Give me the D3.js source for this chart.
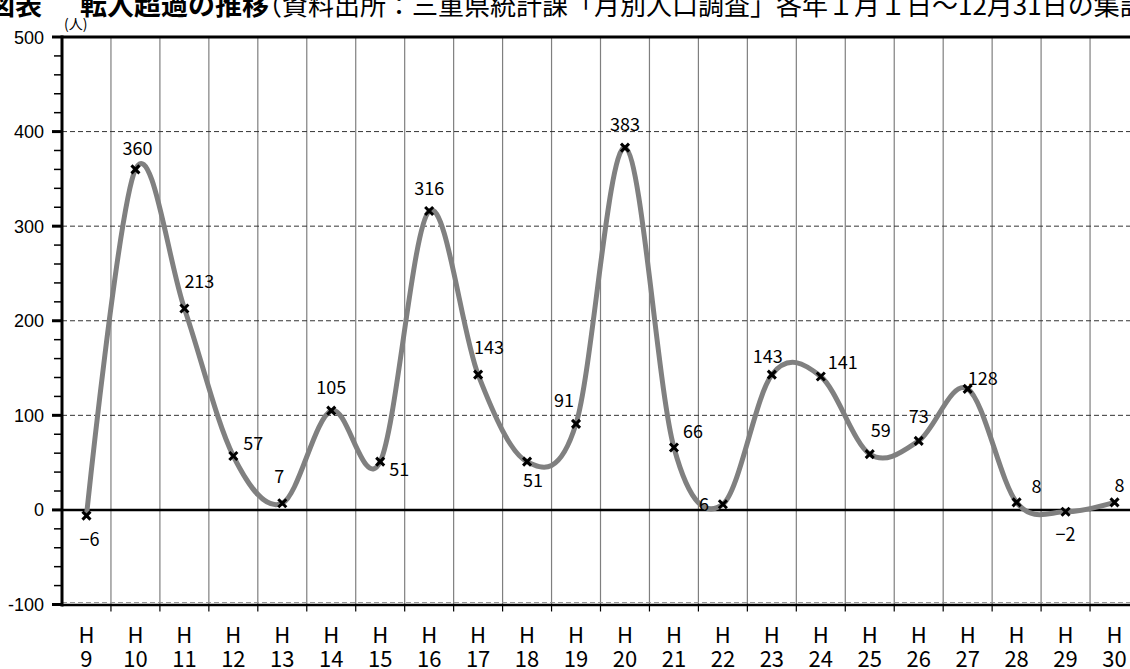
<!DOCTYPE html>
<html>
<head>
<meta charset="utf-8">
<script src="https://cdn.jsdelivr.net/npm/d3@7/dist/d3.min.js"></script>
<style>
  html, body { margin: 0; padding: 0; background: #fff; }
  svg { display: block; }
</style>
</head>
<body>
<svg id="chart" width="1130" height="669"></svg>
<script>
// 転入超過 (人), H9 .. H30
const years = ["9", "10", "11", "12", "13", "14", "15", "16", "17", "18", "19",
               "20", "21", "22", "23", "24", "25", "26", "27", "28", "29", "30"];
const netInflow = [-6, 360, 213, 57, 7, 105, 51, 316, 143, 51, 91,
                   383, 66, 6, 143, 141, 59, 73, 128, 8, -2, 8];
const yTicks = [-100, 0, 100, 200, 300, 400, 500];
const gridValues = [100, 200, 300, 400];

// where each data label sits next to its marker: [anchor, dx, dy]
const labelOffsets = [
    ["middle", 3, 30], ["middle", 2, -14], ["start", 0, -20], ["start", 10, -6],
    ["middle", -3, -20], ["middle", 0, -17], ["start", 9, 14], ["middle", 0, -16],
    ["start", -4, -21], ["middle", 6, 25], ["middle", -12, -17], ["middle", 0, -17],
    ["start", 9, -9], ["middle", -19, 7], ["middle", -4, -12], ["start", 7, -8],
    ["middle", 11, -17], ["middle", 0, -18], ["start", 0, -4], ["start", 15, -9],
    ["middle", 0, 29], ["start", 0, -10]
];

const SANS = "'Liberation Sans', Arial, sans-serif";
const JP = "'Noto Sans CJK JP', sans-serif";

const svg = d3.select("#chart");
const W = 1130;

const x = d3.scaleBand()
    .domain(years)
    .range([62, 1139])
    .padding(0);

const y = d3.scaleLinear()
    .domain([-100, 500])
    .range([604.5, 37]);

// title (top is cut off in the original)
const title = svg.append("text")
    .attr("y", 15)
    .style("font-family", JP);
title.append("tspan")
    .attr("x", -12)
    .style("font-size", "27px")
    .style("font-weight", "bold")
    .text("図表");
title.append("tspan")
    .attr("x", 80)
    .style("font-size", "27px")
    .style("font-weight", "bold")
    .text("転入超過の推移");
title.append("tspan")
    .attr("x", 256)
    .style("font-size", "26px")
    .text("（資料出所：三重県統計課「月別人口調査」各年１月１日～12月31日の集計）");

svg.append("text")
    .attr("x", 64)
    .attr("y", 29)
    .style("font-family", JP)
    .style("font-size", "14px")
    .text("(人)");

// vertical grid between years
const bounds = years.slice(1).map(d => x(d));
svg.append("g")
    .selectAll("line")
    .data(bounds)
    .join("line")
    .attr("x1", d => d).attr("x2", d => d)
    .attr("y1", y(500)).attr("y2", y(-100))
    .attr("stroke", "#7f7f7f")
    .attr("stroke-width", 1.2);

// x tick marks below the bottom line
svg.append("g")
    .selectAll("line")
    .data(bounds)
    .join("line")
    .attr("x1", d => d).attr("x2", d => d)
    .attr("y1", y(-100)).attr("y2", y(-100) + 7)
    .attr("stroke", "#000")
    .attr("stroke-width", 1.2);

// dashed horizontal grid
svg.append("g")
    .selectAll("line")
    .data(gridValues)
    .join("line")
    .attr("x1", 62).attr("x2", W)
    .attr("y1", d => y(d)).attr("y2", d => y(d))
    .attr("stroke", "#333")
    .attr("stroke-width", 1)
    .attr("stroke-dasharray", "5,3");

svg.append("line")
    .attr("x1", 62).attr("x2", W)
    .attr("y1", y(-100) - 2).attr("y2", y(-100) - 2)
    .attr("stroke", "#999")
    .attr("stroke-width", 1)
    .attr("stroke-dasharray", "5,3");

// solid frame lines: top, zero, bottom
svg.append("line")
    .attr("x1", 62).attr("x2", W)
    .attr("y1", y(500)).attr("y2", y(500))
    .attr("stroke", "#000").attr("stroke-width", 3);
svg.append("line")
    .attr("x1", 62).attr("x2", W)
    .attr("y1", y(0)).attr("y2", y(0))
    .attr("stroke", "#000").attr("stroke-width", 2.5);
svg.append("line")
    .attr("x1", 62).attr("x2", W)
    .attr("y1", y(-100) + 0.5).attr("y2", y(-100) + 0.5)
    .attr("stroke", "#000").attr("stroke-width", 2.5);

// y axis with major and minor ticks
const yAxis = svg.append("g").attr("transform", "translate(62,0)");
yAxis.append("line")
    .attr("y1", y(500) - 1.5).attr("y2", y(-100) + 2)
    .attr("stroke", "#000").attr("stroke-width", 3);
yAxis.selectAll(".minor")
    .data(d3.range(-100, 501, 20).filter(v => v % 100 !== 0))
    .join("line")
    .attr("class", "minor")
    .attr("x1", -8).attr("x2", 0)
    .attr("y1", d => y(d)).attr("y2", d => y(d))
    .attr("stroke", "#000").attr("stroke-width", 1.5);
yAxis.selectAll(".major")
    .data(yTicks)
    .join("line")
    .attr("class", "major")
    .attr("x1", -10).attr("x2", 0)
    .attr("y1", d => y(d)).attr("y2", d => y(d))
    .attr("stroke", "#000").attr("stroke-width", 3);
yAxis.selectAll("text")
    .data(yTicks)
    .join("text")
    .attr("x", -18)
    .attr("y", d => y(d) + 6.5)
    .attr("text-anchor", "end")
    .style("font-family", SANS)
    .style("font-size", "18px")
    .text(d => d);

// x labels "H" over the year number
const xl = svg.append("g")
    .style("font-family", JP)
    .style("font-size", "22px");
xl.selectAll(".h")
    .data(years)
    .join("text")
    .attr("class", "h")
    .attr("x", d => x(d) + x.bandwidth() / 2)
    .attr("y", 643)
    .attr("text-anchor", "middle")
    .text("H");
xl.selectAll(".n")
    .data(years)
    .join("text")
    .attr("class", "n")
    .attr("x", d => x(d) + x.bandwidth() / 2)
    .attr("y", 667)
    .attr("text-anchor", "middle")
    .text(d => d);

// smoothed line
const pts = years.map((d, i) => [x(d) + x.bandwidth() / 2, y(netInflow[i])]);
const line = d3.line().curve(d3.curveCardinal.tension(0));
svg.append("path")
    .attr("d", line(pts))
    .attr("fill", "none")
    .attr("stroke", "#808080")
    .attr("stroke-width", 5)
    .attr("stroke-linejoin", "round");

// x markers
const s = 4;
svg.append("g")
    .selectAll("path")
    .data(pts)
    .join("path")
    .attr("d", d => `M${d[0] - s},${d[1] - s}L${d[0] + s},${d[1] + s}M${d[0] - s},${d[1] + s}L${d[0] + s},${d[1] - s}`)
    .attr("stroke", "#000")
    .attr("stroke-width", 3);

// data labels
svg.append("g")
    .style("font-family", JP)
    .style("font-size", "18px")
    .selectAll("text")
    .data(netInflow)
    .join("text")
    .attr("x", (d, i) => pts[i][0] + labelOffsets[i][1])
    .attr("y", (d, i) => pts[i][1] + labelOffsets[i][2])
    .attr("text-anchor", (d, i) => labelOffsets[i][0])
    .text(d => d < 0 ? "\u2212" + Math.abs(d) : d);
</script>
</body>
</html>
